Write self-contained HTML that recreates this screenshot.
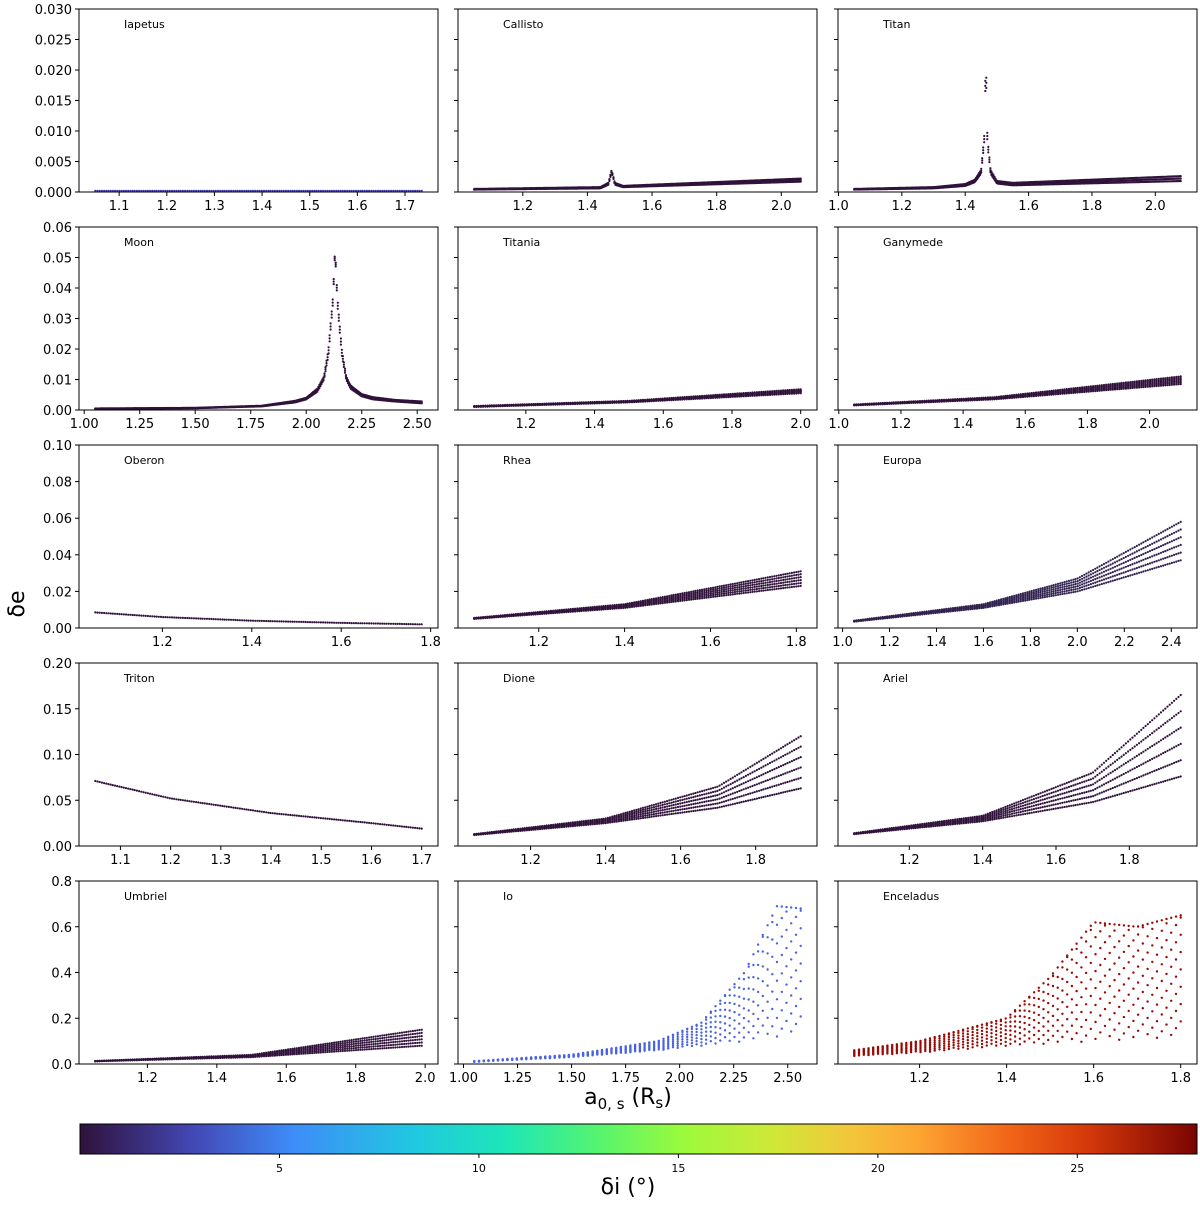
<!DOCTYPE html>
<html><head><meta charset="utf-8">
<style>
body{margin:0;background:#fff;font-family:"Liberation Sans","DejaVu Sans",sans-serif;}
svg text{font-family:"DejaVu Sans","Liberation Sans",sans-serif;}
</style></head>
<body>
<svg id="fig" width="1200" height="1200" viewBox="0 0 1200 1200" xmlns="http://www.w3.org/2000/svg">
<defs>
<linearGradient id="turbo" x1="0" x2="1" y1="0" y2="0">
<stop offset="0" stop-color="#30123b"/>
<stop offset="0.1" stop-color="#4347b4"/>
<stop offset="0.19" stop-color="#3e8cf8"/>
<stop offset="0.3" stop-color="#20c8e0"/>
<stop offset="0.38" stop-color="#1de6b8"/>
<stop offset="0.47" stop-color="#5af56a"/>
<stop offset="0.54" stop-color="#9bfa3c"/>
<stop offset="0.62" stop-color="#cfe838"/>
<stop offset="0.69" stop-color="#f3c63a"/>
<stop offset="0.75" stop-color="#fda532"/>
<stop offset="0.83" stop-color="#f26619"/>
<stop offset="0.9" stop-color="#d63a0a"/>
<stop offset="1" stop-color="#7a0403"/>
</linearGradient>
</defs>
</svg>
<script>
// ---- data ----
const moonNames = ["Iapetus","Callisto","Titan","Moon","Titania","Ganymede","Oberon","Rhea","Europa","Triton","Dione","Ariel","Umbriel","Io","Enceladus"];
const xKnots = [
 [1.05,1.735],
 [1.05,1.44,1.465,1.475,1.485,1.51,2.06],
 [1.05,1.3,1.4,1.43,1.45,1.46,1.465,1.47,1.48,1.5,1.55,2.08],
 [1.05,1.5,1.8,1.95,2.0,2.05,2.08,2.1,2.12,2.13,2.14,2.16,2.18,2.2,2.25,2.3,2.4,2.52],
 [1.05,1.5,2.0],
 [1.05,1.5,2.1],
 [1.05,1.2,1.4,1.6,1.78],
 [1.05,1.4,1.81],
 [1.05,1.6,2.0,2.44],
 [1.05,1.2,1.4,1.6,1.7],
 [1.05,1.4,1.7,1.92],
 [1.05,1.4,1.7,1.94],
 [1.05,1.5,1.99],
 [1.05,1.5,1.9,2.1,2.3,2.45,2.56],
 [1.05,1.2,1.4,1.5,1.6,1.7,1.8]
];
const loValues = [
 [0.0002,0.0002],
 [0.0004,0.0006,0.0012,0.0033,0.0012,0.0008,0.0017],
 [0.0004,0.0006,0.001,0.0016,0.003,0.008,0.021,0.008,0.003,0.0014,0.0011,0.0018],
 [0.0004,0.0006,0.0012,0.0025,0.0035,0.006,0.01,0.018,0.035,0.052,0.035,0.018,0.01,0.007,0.0045,0.0035,0.0028,0.0022],
 [0.001,0.0025,0.0055],
 [0.0015,0.0035,0.0085],
 [0.0085,0.006,0.004,0.0028,0.002],
 [0.005,0.011,0.023],
 [0.0035,0.011,0.02,0.037],
 [0.071,0.052,0.036,0.025,0.019],
 [0.012,0.025,0.042,0.063],
 [0.013,0.027,0.048,0.076],
 [0.012,0.03,0.08],
 [0.01,0.03,0.06,0.08,0.1,0.12,0.14],
 [0.035,0.05,0.08,0.09,0.1,0.11,0.12]
];
const hiValues = [
 [0.0002,0.0002],
 [0.0005,0.0008,0.0015,0.0036,0.0015,0.001,0.0022],
 [0.0005,0.0008,0.0013,0.002,0.0036,0.009,0.023,0.009,0.0036,0.0018,0.0015,0.0026],
 [0.0005,0.0007,0.0014,0.003,0.004,0.007,0.011,0.02,0.037,0.053,0.037,0.02,0.011,0.008,0.0052,0.0042,0.0033,0.0028],
 [0.0013,0.003,0.0068],
 [0.0018,0.0042,0.011],
 [0.0085,0.006,0.004,0.0028,0.002],
 [0.0055,0.013,0.031],
 [0.004,0.013,0.027,0.058],
 [0.071,0.052,0.036,0.025,0.019],
 [0.013,0.03,0.065,0.12],
 [0.014,0.033,0.08,0.165],
 [0.013,0.04,0.15],
 [0.012,0.04,0.10,0.18,0.4,0.69,0.68],
 [0.06,0.1,0.2,0.38,0.62,0.6,0.65]
];
const pointColors = ["#3b3aa8","#30123b","#30123b","#30123b","#30123b","#30123b","#30123b","#30123b","#31224f","#30123b","#30123b","#30123b","#30123b","#4a63e0","#990a04"];
const xTickLabels = [
 ["1.1","1.2","1.3","1.4","1.5","1.6","1.7"],
 ["1.2","1.4","1.6","1.8","2.0"],
 ["1.0","1.2","1.4","1.6","1.8","2.0"],
 ["1.00","1.25","1.50","1.75","2.00","2.25","2.50"],
 ["1.2","1.4","1.6","1.8","2.0"],
 ["1.0","1.2","1.4","1.6","1.8","2.0"],
 ["1.2","1.4","1.6","1.8"],
 ["1.2","1.4","1.6","1.8"],
 ["1.0","1.2","1.4","1.6","1.8","2.0","2.2","2.4"],
 ["1.1","1.2","1.3","1.4","1.5","1.6","1.7"],
 ["1.2","1.4","1.6","1.8"],
 ["1.2","1.4","1.6","1.8"],
 ["1.2","1.4","1.6","1.8","2.0"],
 ["1.00","1.25","1.50","1.75","2.00","2.25","2.50"],
 ["1.2","1.4","1.6","1.8"]
];
const yMaxRows = [0.03,0.06,0.1,0.2,0.8];
const yTickLabels = [
 ["0.000","0.005","0.010","0.015","0.020","0.025","0.030"],
 ["0.00","0.01","0.02","0.03","0.04","0.05","0.06"],
 ["0.00","0.02","0.04","0.06","0.08","0.10"],
 ["0.00","0.05","0.10","0.15","0.20"],
 ["0.0","0.2","0.4","0.6","0.8"]
];
const cbarTicks = ["5","10","15","20","25"];
const cbarMax = 28;

// ---- drawing ----
const NS="http://www.w3.org/2000/svg";
const svg=document.getElementById('fig');
function mk(tag,attrs,parent){const e=document.createElementNS(NS,tag);for(const k in attrs)e.setAttribute(k,attrs[k]);(parent||svg).appendChild(e);return e;}
const colL=[79,458,838], W=359, rowT=[9,227,445,663,881], H=183;
function interp(xs,ys,x){for(let i=0;i<xs.length-1;i++){if(x<=xs[i+1]){const t=(x-xs[i])/(xs[i+1]-xs[i]);return ys[i]+t*(ys[i+1]-ys[i]);}}return ys[ys.length-1];}

moonNames.forEach((name,p)=>{
  const r=Math.floor(p/3), c=p%3;
  const L=colL[c], T=rowT[r];
  const xk=xKnots[p], x0=xk[0], x1=xk[xk.length-1], m=(x1-x0)*0.05;
  const xmin=x0-m, xmax=x1+m, ymax=yMaxRows[r];
  const sx=v=>L+(v-xmin)/(xmax-xmin)*W;
  const sy=v=>T+H-(v/ymax)*H;
  const g=mk('g',{});
  
  
  const dg=mk('g',{fill:pointColors[p]},g);
  
  
  const sparse = (p>=13);
  const peaked = (p>=1 && p<=3);
  const N = sparse?70:(peaked?320:150);
  const K = (loValues[p][0]===hiValues[p][0] && loValues[p][1]===hiValues[p][1])?1:(sparse?8:(peaked?3:6));
  for(let i=0;i<N;i++){
    const xv=x0+(x1-x0)*i/(N-1);
    const lo=interp(xk,loValues[p],xv), hi=interp(xk,hiValues[p],xv);
    for(let k=0;k<K;k++){
      const f = K===1?0:((k+ (sparse?((i*3)%K)/K:0))%K)/(K-1);
      const yv=lo+(hi-lo)*Math.min(1,f);
      const pt=mk('circle',{cx:sx(xv).toFixed(1),cy:sy(yv).toFixed(1),r:sparse?1.2:1.1},dg);
      
      
    }
  }
  const fr=mk('rect',{x:L,y:T,width:W,height:H,fill:'none',stroke:'#000','stroke-width':1},g);
  
  
  const t=mk('text',{x:L+45,y:T+19,'font-size':11},g);t.textContent=name;
  
  
  xTickLabels[p].forEach(lb=>{
    const X=sx(parseFloat(lb));
    mk('line',{x1:X,x2:X,y1:T+H,y2:T+H+4,stroke:'#000'},g);
    const tx=mk('text',{x:X,y:T+H+18,'font-size':13,'text-anchor':'middle'},g);tx.textContent=lb;
    
    
  });
  yTickLabels[r].forEach(lb=>{
    const Y=sy(parseFloat(lb));
    mk('line',{x1:L-4,x2:L,y1:Y,y2:Y,stroke:'#000'},g);
    if(c===0){const ty=mk('text',{x:L-7,y:Y+5,'font-size':13,'text-anchor':'end'},g);ty.textContent=lb;
      
      }
  });
});

const yl=mk('text',{x:0,y:0,'font-size':22,'text-anchor':'middle',transform:'translate(24,604) rotate(-90)'});
yl.textContent='δe';


const xl=mk('text',{x:628,y:1104,'font-size':22,'text-anchor':'middle'});
xl.innerHTML='a<tspan font-size="15" dy="5">0, s</tspan><tspan dy="-5"> (R</tspan><tspan font-size="15" dy="4">s</tspan><tspan dy="-4">)</tspan>';



const cb=mk('rect',{x:80,y:1124,width:1117,height:30,fill:'url(#turbo)',stroke:'#000','stroke-width':1});


cbarTicks.forEach(lb=>{
  const X=80+parseFloat(lb)/cbarMax*1117;
  mk('line',{x1:X,x2:X,y1:1154,y2:1158,stroke:'#000'});
  const t=mk('text',{x:X,y:1172,'font-size':11,'text-anchor':'middle'});t.textContent=lb;
  
  
});
const cl=mk('text',{x:628,y:1194,'font-size':22,'text-anchor':'middle'});
cl.textContent='δi (°)';


</script>
</body></html>
